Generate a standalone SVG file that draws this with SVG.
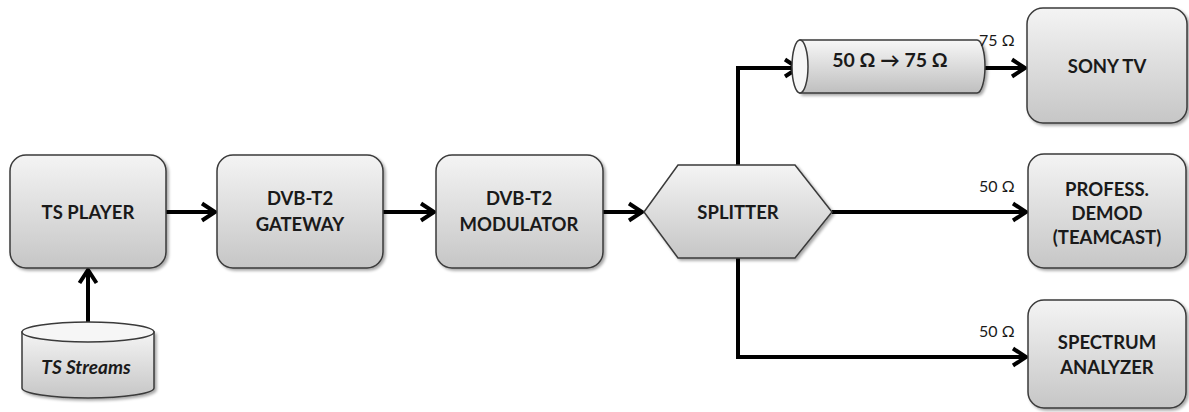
<svg xmlns="http://www.w3.org/2000/svg" width="1189" height="412" viewBox="0 0 1189 412">
<defs>
<linearGradient id="g" x1="0" y1="0" x2="0" y2="1">
<stop offset="0" stop-color="#f4f4f4"/>
<stop offset="1" stop-color="#c6c6c6"/>
</linearGradient>
<linearGradient id="gh" x1="0" y1="0" x2="0" y2="1">
<stop offset="0" stop-color="#f7f7f7"/>
<stop offset="1" stop-color="#bfbfbf"/>
</linearGradient>
<filter id="sh" x="-10%" y="-10%" width="130%" height="130%">
<feGaussianBlur in="SourceAlpha" stdDeviation="1.5"/>
<feOffset dx="2" dy="2" result="o"/>
<feComponentTransfer><feFuncA type="linear" slope="0.35"/></feComponentTransfer>
<feMerge><feMergeNode/><feMergeNode in="SourceGraphic"/></feMerge>
</filter>
<marker id="ar" viewBox="0 0 20 22" refX="16" refY="11" markerWidth="20" markerHeight="22" markerUnits="userSpaceOnUse" orient="auto">
<path d="M3,2.5 L16,11 L3,19.5" fill="none" stroke="#000" stroke-width="4" stroke-linejoin="miter"/>
</marker>
</defs>
<style>
.box{fill:url(#g);stroke:#3a3a3a;stroke-width:1.5;filter:url(#sh)}
.lbl{font-family:Lato,"Open Sans","Liberation Sans",sans-serif;font-weight:bold;font-size:18.5px;fill:#1a1a1a;text-anchor:middle}
.ohm{font-family:Lato,"Open Sans","Liberation Sans",sans-serif;font-size:16px;fill:#1a1a1a;text-anchor:start}
.c{fill:none;stroke:#000;stroke-width:4}
</style>
<g id="connectors">
<line class="c" x1="166" y1="212" x2="215" y2="212" marker-end="url(#ar)"/>
<line class="c" x1="383" y1="212" x2="434" y2="212" marker-end="url(#ar)"/>
<line class="c" x1="603" y1="212" x2="642" y2="212" marker-end="url(#ar)"/>
<line class="c" x1="88" y1="322" x2="88" y2="270" marker-end="url(#ar)"/>
<polyline class="c" points="738,165 738,68 798,68" marker-end="url(#ar)"/>
<line class="c" x1="977" y1="68" x2="1025" y2="68" marker-end="url(#ar)"/>
<line class="c" x1="832" y1="212" x2="1026" y2="212" marker-end="url(#ar)"/>
<polyline class="c" points="738,258 738,357 1026,357" marker-end="url(#ar)"/>
</g>
<g id="ts-player">
<rect class="box" x="10" y="155" width="156" height="113" rx="16"/>
<text class="lbl" x="88" y="219">TS PLAYER</text>
</g>
<g id="gateway">
<rect class="box" x="217" y="155" width="166" height="113" rx="16"/>
<text class="lbl" x="300" y="205">DVB-T2</text>
<text class="lbl" x="300" y="231">GATEWAY</text>
</g>
<g id="modulator">
<rect class="box" x="436" y="155" width="167" height="113" rx="16"/>
<text class="lbl" x="519" y="205">DVB-T2</text>
<text class="lbl" x="519" y="231">MODULATOR</text>
</g>
<g id="splitter">
<polygon class="box" points="644,212 678,165 795,165 832,212 795,258 678,258"/>
<text class="lbl" x="738" y="219">SPLITTER</text>
</g>
<g id="ts-streams">
<path class="box" d="M22,332 L22,388 A66,10 0 0 0 154,388 L154,332 Z"/>
<ellipse cx="88" cy="332" rx="66" ry="10" fill="#f6f6f6" stroke="#3a3a3a" stroke-width="1.5"/>
<text class="lbl" x="86" y="374" style="font-style:italic;font-size:19px">TS Streams</text>
</g>
<g id="converter">
<path d="M800,40 L977,40 A8,26.5 0 0 1 977,93 L800,93 Z" fill="url(#gh)" stroke="#3a3a3a" stroke-width="1.5" filter="url(#sh)"/>
<ellipse cx="800" cy="66.5" rx="8" ry="26.5" fill="#f6f6f6" stroke="#3a3a3a" stroke-width="1.5"/>
<text class="lbl" x="890" y="67" style="font-size:19.5px">50 Ω → 75 Ω</text>
</g>
<g id="sony-tv">
<rect class="box" x="1027" y="8" width="160" height="115" rx="16"/>
<text class="lbl" x="1107" y="73">SONY TV</text>
</g>
<g id="demod">
<rect class="box" x="1028" y="154" width="158" height="114" rx="16"/>
<text class="lbl" x="1107" y="196">PROFESS.</text>
<text class="lbl" x="1107" y="220">DEMOD</text>
<text class="lbl" x="1107" y="244">(TEAMCAST)</text>
</g>
<g id="spectrum">
<rect class="box" x="1028" y="300" width="158" height="108" rx="16"/>
<text class="lbl" x="1107" y="349">SPECTRUM</text>
<text class="lbl" x="1107" y="374">ANALYZER</text>
</g>
<g id="labels">
<text class="ohm" x="979" y="46">75 Ω</text>
<text class="ohm" x="979" y="192">50 Ω</text>
<text class="ohm" x="979" y="337">50 Ω</text>
</g>
</svg>
